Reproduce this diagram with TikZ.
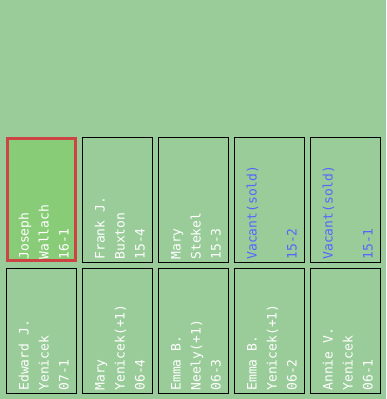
\documentclass[tikz,border=0pt]{standalone}
\usepackage{fontspec}
\newfontfamily\gravefont{DejaVu Sans Mono}
\definecolor{bg}{HTML}{99CC99}
\definecolor{hl}{HTML}{88CC77}
\definecolor{hlred}{HTML}{CC4444}
\definecolor{vac}{HTML}{5566FF}
\newcommand\gravetext[6]{% name, anchor node, l1, l2, l3, colour
  \node[lbl, text=#6] (#1-a) at ([xshift=22pt,yshift=3pt]#2.south west) {#3};
  \node[lbl, text=#6] (#1-b) at ([xshift=42pt,yshift=3pt]#2.south west) {#4};
  \node[lbl, text=#6] (#1-c) at ([xshift=62pt,yshift=3pt]#2.south west) {#5};
}
\begin{document}
\begin{tikzpicture}[x=1pt,y=1pt,
  plotbox/.style={draw=black, line width=1pt, minimum width=70pt, minimum height=125pt,
    inner sep=0pt, outer sep=0pt, anchor=south west},
  selbox/.style={draw=hlred, fill=hl, line width=3pt, minimum width=68pt, minimum height=122pt,
    inner sep=0pt, outer sep=0pt, anchor=south west},
  lbl/.style={rotate=90, anchor=base west, inner sep=0pt, outer sep=0pt,
    font=\gravefont\fontsize{13}{13}\selectfont, text=white}]
\fill[bg] (0,0) rectangle (386,399);
\useasboundingbox (0,0) rectangle (386,399);
% row 1
\coordinate (p1) at (6.5,136.5);
\node[selbox] (s1) at (7.5,138.5) {};
\node[plotbox] (p2) at (82.5,136.5) {};
\node[plotbox] (p3) at (158.5,136.5) {};
\node[plotbox] (p4) at (234.5,136.5) {};
\node[plotbox] (p5) at (310.5,136.5) {};
% row 2
\node[plotbox] (q1) at (6.5,5.5) {};
\node[plotbox] (q2) at (82.5,5.5) {};
\node[plotbox] (q3) at (158.5,5.5) {};
\node[plotbox] (q4) at (234.5,5.5) {};
\node[plotbox] (q5) at (310.5,5.5) {};
% texts row 1
\node[lbl] (t1-a) at ([xshift=22pt,yshift=3pt]p1) {Joseph};
\node[lbl] (t1-b) at ([xshift=42pt,yshift=3pt]p1) {Wallach};
\node[lbl] (t1-c) at ([xshift=62pt,yshift=3pt]p1) {16-1};
\gravetext{t2}{p2}{Frank J.}{Buxton}{15-4}{white}
\gravetext{t3}{p3}{Mary}{Stekel}{15-3}{white}
\node[lbl, text=vac] (t4-a) at ([xshift=22pt,yshift=3pt]p4.south west) {Vacant(sold)};
\node[lbl, text=vac] (t4-c) at ([xshift=62pt,yshift=3pt]p4.south west) {15-2};
\node[lbl, text=vac] (t5-a) at ([xshift=22pt,yshift=3pt]p5.south west) {Vacant(sold)};
\node[lbl, text=vac] (t5-c) at ([xshift=62pt,yshift=3pt]p5.south west) {15-1};
% texts row 2
\gravetext{u1}{q1}{Edward J.}{Yenicek}{07-1}{white}
\gravetext{u2}{q2}{Mary}{Yenicek(+1)}{06-4}{white}
\gravetext{u3}{q3}{Emma B.}{Neely(+1)}{06-3}{white}
\gravetext{u4}{q4}{Emma B.}{Yenicek(+1)}{06-2}{white}
\gravetext{u5}{q5}{Annie V.}{Yenicek}{06-1}{white}
\end{tikzpicture}
\end{document}
